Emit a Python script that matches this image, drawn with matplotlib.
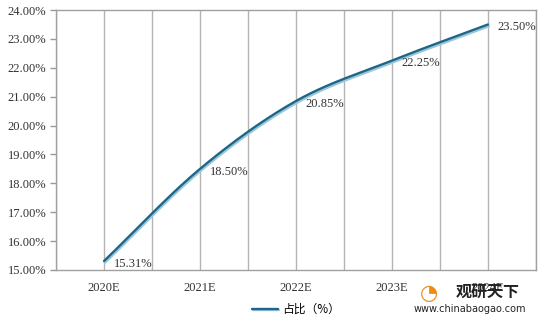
import numpy as np
import matplotlib.pyplot as plt
import matplotlib.patheffects as pe

# ----------------------------
# Data
# ----------------------------
years = ['2020E', '2021E', '2022E', '2023E', '2024E']
share = [15.31, 18.50, 20.85, 22.25, 23.50]   # 占比 (%)
y_ticks = np.arange(15, 24.01, 1)

plt.rcParams['font.family'] = ['Liberation Serif', 'Noto Sans CJK SC', 'DejaVu Sans']


def catmull_rom(xs, ys, n=40):
    # smooth curve through the points, like the spreadsheet "smoothed line"
    xs = np.asarray(xs, float)
    ys = np.asarray(ys, float)
    px = np.concatenate([[2 * xs[0] - xs[1]], xs, [2 * xs[-1] - xs[-2]]])
    py = np.concatenate([[2 * ys[0] - ys[1]], ys, [2 * ys[-1] - ys[-2]]])
    out_x, out_y = [], []
    t = np.linspace(0, 1, n)
    for i in range(1, len(px) - 2):
        for p, out in ((px, out_x), (py, out_y)):
            p0, p1, p2, p3 = p[i - 1], p[i], p[i + 1], p[i + 2]
            seg = 0.5 * ((2 * p1) + (-p0 + p2) * t
                         + (2 * p0 - 5 * p1 + 4 * p2 - p3) * t ** 2
                         + (-p0 + 3 * p1 - 3 * p2 + p3) * t ** 3)
            out.extend(seg)
    return np.array(out_x), np.array(out_y)


x = np.arange(len(years))
sx, sy = catmull_rom(x, share)

fig = plt.figure(figsize=(5.45, 3.21), dpi=100)
ax = fig.add_axes([0.1028, 0.1589, 0.8807, 0.8099])

line_color = '#1d6688'
ax.plot(sx, sy, color=line_color, lw=1.7, solid_capstyle='round',
        path_effects=[pe.SimpleLineShadow(offset=(0.6, -1.3), shadow_color='#9cc7da', alpha=1),
                      pe.Normal()], label='占比（%）', zorder=3)

for xi, v in zip(x, share):
    ax.annotate(f'{v:.2f}%', (xi, v), xytext=(7, -2), textcoords='offset points',
                ha='left', va='center', fontsize=9, color='#333333', zorder=4)

ax.set_xlim(-0.5, 4.5)
ax.set_ylim(15, 24)
ax.set_yticks(y_ticks)
ax.set_yticklabels([f'{v:.2f}%' for v in y_ticks])
ax.set_xticks(x)
ax.set_xticklabels(years)
ax.set_xticks(np.arange(-0.5, 4.51, 0.5), minor=True)
ax.grid(True, axis='x', which='both', color='#b4b4b4', lw=1)
ax.tick_params(axis='x', which='both', length=0, pad=9, labelsize=9, colors='#333333')
ax.tick_params(axis='y', length=4, width=1, color='#999999', labelsize=9, colors='#333333', pad=3)
for s in ax.spines.values():
    s.set_color('#a0a0a0')
    s.set_linewidth(1)

ax.legend(loc='upper center', bbox_to_anchor=(0.5, -0.085), frameon=False,
          handlelength=2.2, handletextpad=0.3,
          prop={'family': ['Noto Sans CJK SC'], 'size': 8.5})

# watermark
fig.text(0.787, 0.088, '◔', fontsize=15, color='#f08a1c', family=['DejaVu Sans'],
         ha='center', va='center')
fig.text(0.895, 0.09, '观研天下', fontsize=11.5, fontweight='bold', color='#222222',
         family=['Noto Sans CJK SC'], ha='center', va='center')
fig.text(0.862, 0.036, 'www.chinabaogao.com', fontsize=7, color='#222222',
         family=['DejaVu Sans'], ha='center', va='center')

fig.savefig('out.png', dpi=100)
